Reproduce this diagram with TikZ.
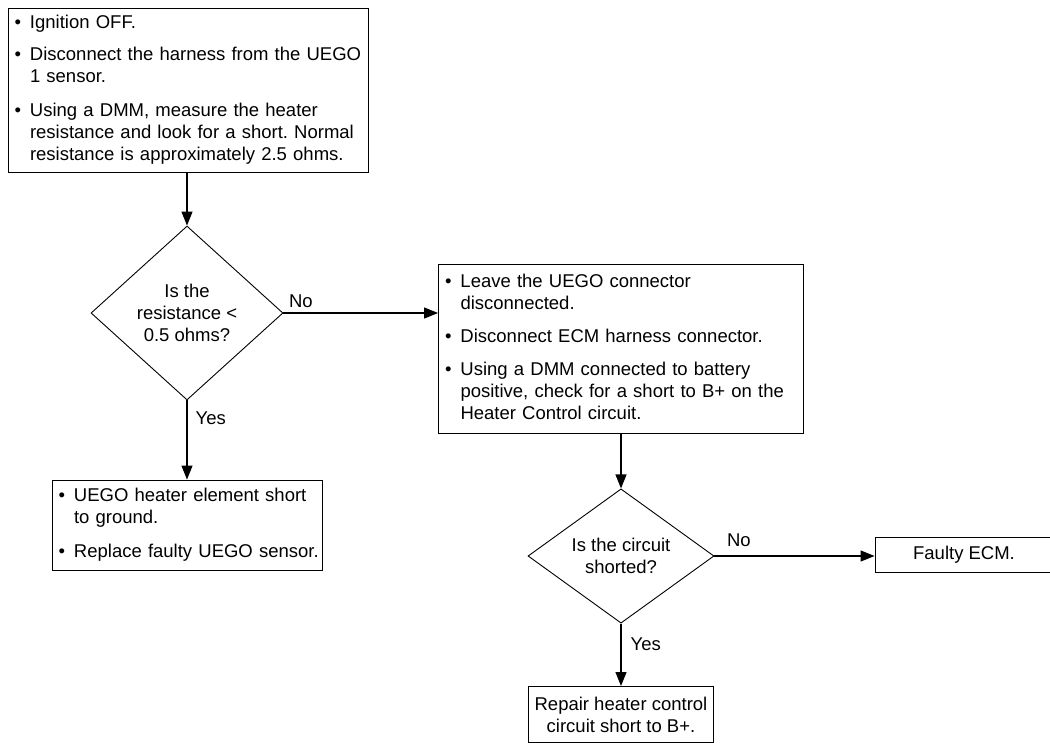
\documentclass[tikz,border=0pt]{standalone}
\usepackage{fontspec}
\setmainfont{Liberation Sans}
\usetikzlibrary{shapes.geometric, arrows.meta}

% one bulleted point; its lines are given with \\ and never rewrapped
\newcommand{\bpoint}[1]{\noindent\makebox[17pt][l]{\hspace{1.5pt}\textbullet}%
  \begin{tabular}[t]{@{}l@{}}#1\end{tabular}\par}
\newcommand{\bgap}{\vspace{10.5pt}}

\begin{document}
\frenchspacing
\begin{tikzpicture}[x=1pt, y=-1pt,
  font=\fontsize{18.5}{22}\selectfont,
  stepbox/.style={draw, line width=0.9pt, rectangle, inner xsep=5pt, inner ysep=0pt, align=left},
  endbox/.style={draw, line width=0.9pt, rectangle, inner xsep=6pt, inner ysep=0pt, align=center},
  decision/.style={draw, line width=0.9pt, diamond, inner sep=0pt, align=center},
  flow/.style={-{Triangle[length=14pt,width=11pt]}, line width=1.2pt},
  answer/.style={inner sep=5pt}]
  \useasboundingbox (0,0) rectangle (1050,742);

  \node[stepbox, text width=350pt, minimum height=164pt] (disc) at (188,90) {%
    \bpoint{Ignition OFF.}\bgap
    \bpoint{Disconnect the harness from the UEGO\\1 sensor.}\bgap
    \bpoint{Using a DMM, measure the heater\\resistance and look for a short. Normal\\resistance is approximately 2.5 ohms.}};

  \node[decision, minimum width=192pt, minimum height=174pt] (lowres) at (187,313)
    {Is the\\resistance <\\0.5 ohms?};

  \node[stepbox, text width=260pt, minimum height=90pt] (gnd) at (187,525) {%
    \bpoint{UEGO heater element short\\to ground.}\bgap
    \bpoint{Replace faulty UEGO sensor.}};

  \node[stepbox, text width=355pt, minimum height=169pt] (ecmchk) at (621,349) {%
    \bpoint{Leave the UEGO connector\\disconnected.}\bgap
    \bpoint{Disconnect ECM harness connector.}\bgap
    \bpoint{Using a DMM connected to battery\\positive, check for a short to B+ on the\\Heater Control circuit.}};

  \node[decision, minimum width=186pt, minimum height=134pt] (shorted) at (621,556)
    {Is the circuit\\shorted?};

  \node[endbox, minimum width=178pt, minimum height=35pt] (ecm) at (964,555) {Faulty ECM.};

  \node[endbox, minimum height=56pt, anchor=north] (repair) at (621,686)
    {Repair heater control\\circuit short to B+.};

  \draw[flow] (lowres.north |- disc.south) -- (lowres.north);
  \draw[flow] (lowres.east) -- node[answer, pos=0, above right] {No} (lowres.east -| ecmchk.west);
  \draw[flow] (lowres.south) -- node[answer, pos=0, below right, xshift=3pt, yshift=-6pt] {Yes} (gnd.north);
  \draw[flow] (shorted.north |- ecmchk.south) -- (shorted.north);
  \draw[flow] (shorted.east) -- node[answer, pos=0, above right, xshift=7pt, yshift=4pt] {No} (shorted.east -| ecm.west);
  \draw[flow] (shorted.south) -- node[answer, pos=0, below right, xshift=4pt, yshift=-9pt] {Yes} (repair.north);
\end{tikzpicture}
\end{document}
